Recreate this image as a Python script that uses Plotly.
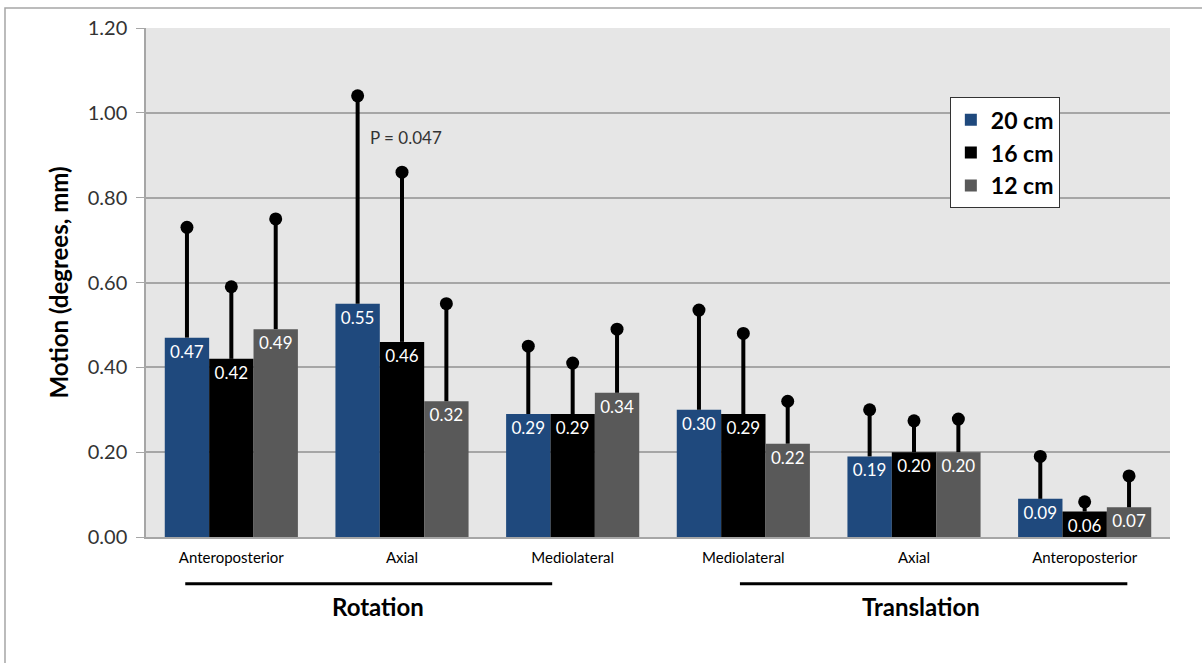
import plotly.graph_objects as go

categories = ["Anteroposterior", "Axial", "Mediolateral", "Mediolateral", "Axial", "Anteroposterior"]
series_names = ["20 cm", "16 cm", "12 cm"]
values_20 = [0.47, 0.55, 0.29, 0.30, 0.19, 0.09]
values_16 = [0.42, 0.46, 0.29, 0.29, 0.20, 0.06]
values_12 = [0.49, 0.32, 0.34, 0.22, 0.20, 0.07]
err_20 = [0.26, 0.49, 0.16, 0.235, 0.11, 0.10]
err_16 = [0.17, 0.40, 0.12, 0.19, 0.074, 0.023]
err_12 = [0.26, 0.23, 0.15, 0.10, 0.078, 0.074]
colors = ["#1F497D", "#000000", "#595959"]
group_labels = ["Rotation", "Translation"]
p_label = "P = 0.047"
y_ticks = [0.0, 0.2, 0.4, 0.6, 0.8, 1.0, 1.2]

FONT = "Lato"
xpos = list(range(len(categories)))

fig = go.Figure()
series_vals = [values_20, values_16, values_12]
series_err = [err_20, err_16, err_12]
for name, vals, errs, col in zip(series_names, series_vals, series_err, colors):
    fig.add_trace(go.Bar(
        x=xpos, y=vals, name=name, marker=dict(color=col, line=dict(width=0)),
        offsetgroup=name,
        error_y=dict(type="data", symmetric=False, array=errs, arrayminus=[0]*len(errs),
                     color="black", thickness=4, width=0),
        text=vals, texttemplate="%{y:.2f}", textposition="inside",
        insidetextanchor="end", textangle=0,
        textfont=dict(color="white", size=17, family=FONT),
        constraintext="none",
    ))
for name, vals, errs in zip(series_names, series_vals, series_err):
    fig.add_trace(go.Scatter(
        x=xpos, y=[v + e for v, e in zip(vals, errs)], mode="markers",
        marker=dict(color="black", size=13), showlegend=False,
        offsetgroup=name, hoverinfo="skip",
    ))

# group labels
fig.add_shape(type="line", xref="x", yref="paper", x0=-0.27, x1=1.88, y0=-0.092, y1=-0.092,
              line=dict(color="black", width=3))
fig.add_shape(type="line", xref="x", yref="paper", x0=2.98, x1=5.25, y0=-0.092, y1=-0.092,
              line=dict(color="black", width=3))
fig.add_annotation(x=0.86, y=-0.136, xref="x", yref="paper", text="<b>%s</b>" % group_labels[0],
                   showarrow=False, yanchor="middle", xanchor="center",
                   font=dict(size=24, family=FONT, color="black"))
fig.add_annotation(x=4.04, y=-0.136, xref="x", yref="paper", text="<b>%s</b>" % group_labels[1],
                   showarrow=False, yanchor="middle", xanchor="center",
                   font=dict(size=24, family=FONT, color="black"))
fig.add_annotation(x=1.023, y=0.941, xref="x", yref="y", text=p_label, showarrow=False,
                   xanchor="center", yanchor="middle",
                   font=dict(size=17, family=FONT, color="#333333"))

# outer frame
fig.add_shape(type="rect", xref="paper", yref="paper", x0=-0.1377, x1=1.1, y0=-0.4, y1=1.0393,
              line=dict(color="#a6a6a6", width=1.5), layer="below")

fig.update_layout(
    width=1202, height=663,
    margin=dict(l=146, r=32, t=28, b=126),
    paper_bgcolor="white", plot_bgcolor="#E6E6E6",
    barmode="group", bargap=0.22, bargroupgap=0,
    scattermode="group", scattergap=0.22,
    font=dict(family=FONT, color="#333333"),
    legend=dict(x=0.785, y=0.864, xanchor="left", yanchor="top", bgcolor="white",
                bordercolor="#333333", borderwidth=1, itemwidth=30,
                font=dict(size=23, family=FONT, color="black", weight="bold"),
                tracegroupgap=0),
    showlegend=True,
)
fig.update_xaxes(range=[-0.5, 5.5], tickmode="array", tickvals=xpos, ticktext=categories,
                 tickfont=dict(size=15, family=FONT, color="black"), showgrid=False,
                 showline=True, linecolor="#a6a6a6", linewidth=1.5, ticks="", zeroline=False,
                 ticklabelstandoff=6)
fig.update_yaxes(range=[0, 1.2], tickmode="array", tickvals=y_ticks, tickformat=".2f",
                 tickfont=dict(size=20, family=FONT, color="#333333"),
                 gridcolor="#a6a6a6", gridwidth=1.5, showline=True, linecolor="#a6a6a6",
                 linewidth=1.5, ticks="outside", ticklen=8, tickcolor="#a6a6a6", zeroline=False,
                 ticklabelstandoff=5,
                 title=dict(text="<b>Motion (degrees, mm)</b>", font=dict(size=24, family=FONT, color="black"),
                            standoff=12))

fig.write_html("out.html", config={"displayModeBar": False},
               post_script="document.body.style.margin='0';document.body.style.overflow='hidden';")
